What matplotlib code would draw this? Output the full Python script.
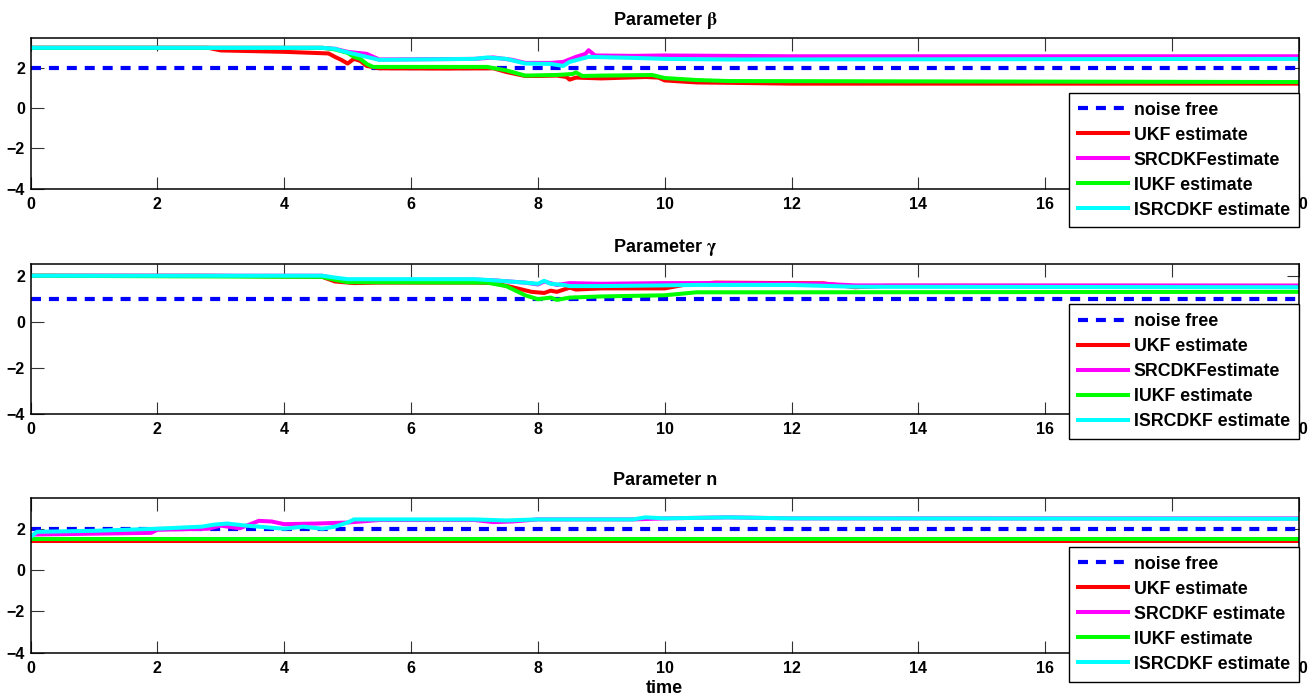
import matplotlib
matplotlib.use("Agg")
import matplotlib.pyplot as plt

# ── Data ────────────────────────────────────────────────────────────────────
T_END = 20

# Parameter beta
beta_true = 2.0
beta_ukf_t = [0, 2.8, 3.0, 4.0, 4.7, 4.8, 4.9, 5.0, 5.1, 5.2, 5.3, 5.5, 6.5, 7.3, 7.5, 7.8,
              8.0, 8.3, 8.45, 8.5, 8.6, 9.0, 9.7, 9.9, 10.0, 10.5, 11.3, 12, 20]
beta_ukf = [3.0, 3.0, 2.87, 2.8, 2.72, 2.55, 2.4, 2.22, 2.45, 2.35, 2.1, 1.98, 1.97, 1.98,
            1.8, 1.6, 1.6, 1.62, 1.55, 1.42, 1.52, 1.48, 1.55, 1.52, 1.38, 1.28, 1.25, 1.22, 1.22]
beta_srcdkf_t = [0, 4.6, 4.8, 5.0, 5.3, 5.5, 7.0, 7.3, 7.6, 7.8, 8.2, 8.4, 8.6, 8.75, 8.8,
                 8.9, 9.5, 10, 12, 20]
beta_srcdkf = [3.0, 3.0, 2.95, 2.8, 2.7, 2.42, 2.45, 2.52, 2.4, 2.25, 2.25, 2.3, 2.55, 2.7,
               2.88, 2.62, 2.6, 2.62, 2.58, 2.58]
beta_iukf_t = [0, 4.6, 4.8, 5.0, 5.1, 5.2, 5.3, 5.4, 7.2, 7.5, 7.8, 8.3, 8.55, 8.6, 8.7,
               9.0, 9.8, 10.0, 10.5, 11.0, 20]
beta_iukf = [3.0, 3.0, 2.92, 2.75, 2.55, 2.45, 2.2, 2.05, 2.05, 1.88, 1.62, 1.65, 1.7, 1.78,
             1.6, 1.62, 1.65, 1.5, 1.4, 1.35, 1.3]
beta_isrcdkf_t = [0, 4.6, 4.8, 4.9, 5.1, 5.3, 5.5, 7.0, 7.2, 7.5, 7.8, 8.2, 8.4, 8.5, 8.8,
                  9.5, 10, 11, 20]
beta_isrcdkf = [3.0, 3.0, 2.95, 2.85, 2.7, 2.55, 2.4, 2.45, 2.52, 2.45, 2.22, 2.2, 2.1, 2.3,
                2.55, 2.5, 2.45, 2.42, 2.45]

# Parameter gamma
gamma_true = 1.0
gamma_ukf_t = [0, 2.8, 4.6, 4.8, 5.1, 5.5, 7.0, 7.3, 7.6, 7.9, 8.1, 8.2, 8.3, 8.5, 8.6,
               9.0, 10.0, 10.3, 10.8, 12.5, 13.0, 13.5, 20]
gamma_ukf = [2.0, 2.0, 1.95, 1.75, 1.68, 1.7, 1.7, 1.68, 1.5, 1.3, 1.25, 1.35, 1.3, 1.48,
             1.4, 1.45, 1.45, 1.6, 1.7, 1.67, 1.5, 1.56, 1.56]
gamma_srcdkf_t = [0, 4.6, 4.8, 5.0, 7.0, 7.3, 7.8, 8.0, 8.1, 8.3, 8.5, 9.0, 10.0, 11.0,
                  12.5, 13.0, 20]
gamma_srcdkf = [2.0, 2.0, 1.88, 1.8, 1.83, 1.8, 1.7, 1.62, 1.75, 1.6, 1.68, 1.65, 1.68,
                1.68, 1.65, 1.58, 1.57]
gamma_iukf_t = [0, 4.6, 4.8, 5.0, 7.2, 7.5, 7.8, 8.0, 8.2, 8.3, 8.5, 9.0, 10.0, 10.5, 12.0, 20]
gamma_iukf = [2.0, 1.95, 1.82, 1.72, 1.7, 1.55, 1.15, 0.98, 1.05, 0.95, 1.05, 1.1, 1.15,
              1.28, 1.28, 1.3]
gamma_isrcdkf_t = [0, 4.6, 4.8, 5.0, 7.0, 7.3, 7.8, 8.0, 8.1, 8.2, 8.4, 8.5, 9.0, 10.0,
                   10.5, 12.0, 13.0, 20]
gamma_isrcdkf = [2.0, 2.0, 1.92, 1.85, 1.85, 1.8, 1.7, 1.65, 1.78, 1.65, 1.6, 1.55, 1.55,
                 1.58, 1.6, 1.6, 1.52, 1.5]

# Parameter n
n_true = 2.0
n_ukf_t = [0, 20]
n_ukf = [1.42, 1.42]
n_srcdkf_t = [0, 0.05, 1.9, 2.0, 2.8, 3.0, 3.3, 3.6, 3.8, 4.0, 4.5, 5.0, 5.5, 7.0, 7.3,
              7.6, 8.0, 9.5, 10.0, 11.0, 12.0, 20]
n_srcdkf = [1.6, 1.72, 1.8, 1.95, 2.0, 2.15, 2.02, 2.38, 2.35, 2.22, 2.25, 2.3, 2.42, 2.42,
            2.32, 2.35, 2.45, 2.45, 2.5, 2.55, 2.5, 2.5]
n_iukf_t = [0, 20]
n_iukf = [1.5, 1.5]
n_isrcdkf_t = [0, 0.1, 1.0, 2.0, 2.7, 2.9, 3.1, 3.4, 3.6, 4.0, 4.3, 4.6, 4.8, 5.0, 5.1,
               5.5, 7.0, 7.5, 8.0, 9.5, 9.7, 10.0, 11.0, 12.0, 20]
n_isrcdkf = [1.6, 1.85, 1.9, 2.0, 2.1, 2.2, 2.25, 2.15, 2.1, 2.0, 2.1, 2.0, 2.1, 2.3, 2.45,
             2.45, 2.45, 2.4, 2.45, 2.45, 2.55, 2.5, 2.55, 2.5, 2.48]

X_TICKS = list(range(0, 21, 2))
Y_TICKS = [-4, -2, 0, 2]

# ── Style ────────────────────────────────────────────────────────────────────
plt.rcParams.update({
    "font.family": ["Liberation Sans", "DejaVu Sans"],
    "font.weight": "bold",
    "font.size": 11,
    "mathtext.fontset": "stix",
})

panels = [
    {
        "title": r"Parameter $\mathrm{\beta}$", "true": beta_true, "ylim": (-4, 3.5),
        "rect": [0.0232, 0.730, 0.9646, 0.216], "leg_top": 0.636,
        "series": [(beta_ukf_t, beta_ukf), (beta_srcdkf_t, beta_srcdkf),
                   (beta_iukf_t, beta_iukf), (beta_isrcdkf_t, beta_isrcdkf)],
        "labels": ["UKF estimate", "SRCDKFestimate", "IUKF estimate", "ISRCDKF estimate"],
    },
    {
        "title": r"Parameter $\mathrm{\gamma}$", "true": gamma_true, "ylim": (-4, 2.5),
        "rect": [0.0232, 0.408, 0.9646, 0.214], "leg_top": 0.733,
        "series": [(gamma_ukf_t, gamma_ukf), (gamma_srcdkf_t, gamma_srcdkf),
                   (gamma_iukf_t, gamma_iukf), (gamma_isrcdkf_t, gamma_isrcdkf)],
        "labels": ["UKF estimate", "SRCDKFestimate", "IUKF estimate", "ISRCDKF estimate"],
    },
    {
        "title": "Parameter n", "true": n_true, "ylim": (-4, 3.5),
        "rect": [0.0232, 0.066, 0.9646, 0.222], "leg_top": 0.684,
        "series": [(n_ukf_t, n_ukf), (n_srcdkf_t, n_srcdkf),
                   (n_iukf_t, n_iukf), (n_isrcdkf_t, n_isrcdkf)],
        "labels": ["UKF estimate", "SRCDKF estimate", "IUKF estimate", "ISRCDKF estimate"],
    },
]

COLORS = ["#ff0000", "#ff00ff", "#00ff00", "#00ffff"]

fig = plt.figure(figsize=(13.15, 6.99), dpi=100)

for i, p in enumerate(panels):
    ax = fig.add_axes(p["rect"])
    ax.plot([0, T_END], [p["true"], p["true"]], color="#0000ff", linewidth=3.0,
            linestyle=(0, (2.4, 1.9)), label="noise free")
    for (t, v), c, lab in zip(p["series"], COLORS, p["labels"]):
        ax.plot(t, v, color=c, linewidth=2.9, label=lab)

    ax.set_xlim(0, T_END)
    ax.set_ylim(*p["ylim"])
    ax.set_xticks(X_TICKS)
    ax.set_yticks(Y_TICKS)
    ax.tick_params(direction="in", top=True, right=True, length=9, width=0.8,
                   color="#333333", labelsize=11.5)
    ax.tick_params(axis="x", pad=6)
    ax.tick_params(axis="y", pad=4)
    for s in ax.spines.values():
        s.set_linewidth(1.1)
    ax.set_title(p["title"], fontsize=13, fontweight="bold", pad=9)

    leg = ax.legend(loc="upper right", bbox_to_anchor=(1.0, p["leg_top"]),
                    borderaxespad=0, fontsize=12.8, frameon=True, fancybox=False,
                    framealpha=1, edgecolor="black", handlelength=2.8,
                    handletextpad=0.35, labelspacing=0.45, borderpad=0.5)
    leg.get_frame().set_linewidth(1.0)
    leg.set_zorder(10)

    if i == len(panels) - 1:
        ax.set_xlabel("time", fontsize=13, fontweight="bold", labelpad=3)

fig.savefig("out.png", dpi=100)
